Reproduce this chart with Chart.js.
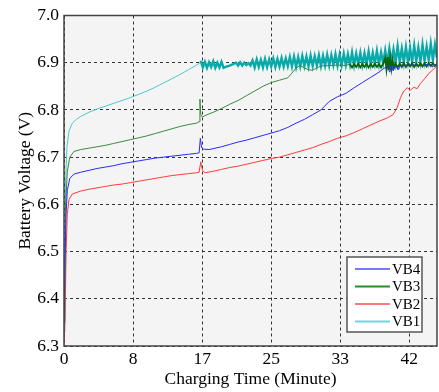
<!DOCTYPE html>
<html>
<head>
<meta charset="utf-8">
<script src="https://cdn.jsdelivr.net/npm/chart.js@4"></script>
<style>
  html, body { margin: 0; padding: 0; background: #fff; }
  #wrap { width: 439px; height: 392px; }
</style>
</head>
<body>
<div id="wrap"><canvas id="voltChart"></canvas></div>
<script>
// grid every 500 s, labelled in whole minutes
const xTickValues = [0, 25 / 3, 50 / 3, 25, 100 / 3, 125 / 3];
const xTickLabels = ['0', '8', '17', '25', '33', '42'];
const yTickValues = [6.3, 6.4, 6.5, 6.6, 6.7, 6.8, 6.9, 7.0];
const seriesNames = ['VB4', 'VB3', 'VB2', 'VB1'];

const vb4Time = [0, 0.15, 0.25, 0.4, 0.7, 1.2, 2, 3, 4, 5, 6, 7, 8, 9, 10, 11, 12, 13, 14, 15, 16, 16.3, 16.45, 16.6, 16.8, 17.5,
  18, 19, 20, 21, 22, 23, 24, 25, 26, 27, 28, 29, 30, 31, 32, 33, 34, 35, 36, 37, 38, 38.5, 39, 39.3, 39.5, 39.7, 40, 40.3,
  40.6, 41, 42, 43, 44, 44.5, 45];
const vb4Volt = [6.35, 6.5, 6.58, 6.63, 6.655, 6.664, 6.668, 6.672, 6.676, 6.679, 6.682, 6.686, 6.689, 6.692, 6.695, 6.698,
  6.700, 6.702, 6.704, 6.706, 6.708, 6.709, 6.74, 6.72, 6.717, 6.716, 6.718, 6.722, 6.727, 6.732, 6.736, 6.741, 6.746, 6.751,
  6.756, 6.763, 6.772, 6.780, 6.790, 6.800, 6.818, 6.828, 6.835, 6.847, 6.858, 6.869, 6.880, 6.887, 6.892, 6.880, 6.895,
  6.883, 6.894, 6.885, 6.895, 6.894, 6.895, 6.894, 6.896, 6.892, 6.898];

const vb3Time = [0, 0.1, 0.2, 0.4, 0.7, 1.2, 2, 3, 4, 5, 6, 7, 8, 9, 10, 11, 12, 13, 14, 15, 16, 16.3, 16.4, 16.5, 16.7, 17,
  18, 19, 20, 21, 22, 23, 24, 25, 26, 27, 27.5, 28, 28.5, 29, 29.5, 30, 30.5, 31, 32, 33, 34,
  34.5, 34.75, 35, 35.25, 35.5, 35.75, 36, 36.25, 36.5, 36.75, 37, 37.25, 37.5, 37.75, 38, 38.25, 38.5, 38.75, 38.9,
  39.05, 39.2, 39.35, 39.5, 39.65, 39.8, 40, 40.25, 40.5, 40.75, 41, 41.25, 41.5, 41.75, 42, 42.25, 42.5, 42.75, 43,
  43.25, 43.5, 43.75, 44, 44.25, 44.5, 44.75, 45];
const vb3Volt = [6.35, 6.45, 6.6, 6.67, 6.70, 6.712, 6.716, 6.719, 6.722, 6.725, 6.729, 6.733, 6.737, 6.741, 6.745, 6.75,
  6.755, 6.76, 6.765, 6.769, 6.772, 6.775, 6.823, 6.79, 6.785, 6.788, 6.795, 6.803, 6.812, 6.82, 6.83, 6.84, 6.85, 6.858,
  6.863, 6.868, 6.878, 6.889, 6.894, 6.889, 6.885, 6.884, 6.889, 6.893, 6.894, 6.895, 6.894,
  6.897, 6.890, 6.897, 6.891, 6.898, 6.890, 6.897, 6.891, 6.898, 6.890, 6.897, 6.891, 6.898, 6.891, 6.897, 6.890, 6.898,
  6.910, 6.886, 6.912, 6.885, 6.911, 6.887, 6.905, 6.889, 6.898, 6.890, 6.898, 6.891, 6.899, 6.891, 6.898, 6.892, 6.899,
  6.891, 6.898, 6.892, 6.899, 6.892, 6.899, 6.892, 6.899, 6.893, 6.899, 6.893, 6.897];

const vb2Time = [0, 0.15, 0.25, 0.4, 0.6, 1.0, 2, 3, 4, 5, 6, 7, 8, 9, 10, 11, 12, 13, 14, 15, 16, 16.3, 16.5, 16.7, 17,
  18, 19, 20, 21, 22, 23, 24, 25, 26, 27, 28, 29, 30, 31, 32, 33, 34, 35, 36, 37, 38, 39, 39.7, 40.2, 40.6, 41, 41.4,
  41.8, 42.2, 42.6, 43, 43.5, 44, 44.5, 45];
const vb2Volt = [6.30, 6.38, 6.50, 6.58, 6.61, 6.622, 6.628, 6.632, 6.635, 6.638, 6.641, 6.643, 6.646, 6.649, 6.652, 6.655,
  6.658, 6.661, 6.663, 6.665, 6.667, 6.668, 6.69, 6.672, 6.667, 6.670, 6.674, 6.678, 6.681, 6.685, 6.689, 6.693, 6.697,
  6.700, 6.705, 6.710, 6.715, 6.720, 6.727, 6.733, 6.740, 6.745, 6.752, 6.760, 6.768, 6.776, 6.783, 6.790, 6.805, 6.826,
  6.840, 6.847, 6.842, 6.848, 6.845, 6.856, 6.866, 6.877, 6.885, 6.893];

const vb1Time = [0, 0.1, 0.2, 0.35, 0.6, 1.0, 1.5, 2, 3, 4, 5, 6, 7, 8, 9, 10, 11, 12, 13, 14, 15, 16, 16.4,
  16.5, 16.75, 17, 17.25, 17.5, 17.75, 18, 18.25, 18.5, 18.75, 19, 19.25, 19.5, 20, 20.4, 20.75, 21, 21.25, 21.5, 21.75,
  22, 22.25, 22.5, 22.75, 23, 23.25, 23.5, 23.75, 24, 24.25, 24.5, 24.75, 25, 25.25, 25.5, 25.75, 26, 26.25, 26.5, 26.75,
  27, 27.25, 27.5, 27.75, 28, 28.25, 28.5, 28.75, 29, 29.25, 29.5, 29.75, 30, 30.25, 30.5, 30.75, 31, 31.25, 31.5, 31.75,
  32, 32.25, 32.5, 32.75, 33, 33.25, 33.5, 33.75, 34, 34.25, 34.5, 34.75, 35, 35.25, 35.5, 35.75, 36, 36.25, 36.5, 36.75,
  37, 37.25, 37.5, 37.75, 38, 38.25, 38.5, 38.75, 39, 39.25, 39.5, 39.75, 40, 40.25, 40.5, 40.75, 41, 41.25, 41.5, 41.75,
  42, 42.25, 42.5, 42.75, 43, 43.25, 43.5, 43.75, 44, 44.25, 44.5, 44.75, 45];
const vb1Volt = [6.33, 6.5, 6.65, 6.72, 6.755, 6.772, 6.78, 6.786, 6.795, 6.802, 6.808, 6.814, 6.82, 6.826, 6.833, 6.84,
  6.848, 6.857, 6.866, 6.875, 6.885, 6.895, 6.9,
  6.904, 6.890, 6.902, 6.889, 6.901, 6.891, 6.903, 6.889, 6.900, 6.890, 6.902, 6.889, 6.891, 6.894, 6.897, 6.900, 6.894,
  6.901, 6.894, 6.900, 6.895, 6.899, 6.894, 6.905, 6.890, 6.907, 6.891, 6.906, 6.890, 6.908, 6.891, 6.907, 6.892, 6.909,
  6.891, 6.908, 6.892, 6.910, 6.892, 6.909, 6.893, 6.912, 6.892, 6.913, 6.891, 6.912, 6.892, 6.914, 6.893, 6.913, 6.892,
  6.915, 6.893, 6.914, 6.894, 6.916, 6.893, 6.915, 6.894, 6.917, 6.894, 6.916, 6.895, 6.918, 6.894, 6.917, 6.895, 6.919,
  6.895, 6.918, 6.896, 6.922, 6.895, 6.919, 6.897, 6.921, 6.896, 6.920, 6.897, 6.924, 6.897, 6.921, 6.898, 6.925, 6.897,
  6.922, 6.899, 6.926, 6.899, 6.930, 6.901, 6.928, 6.900, 6.935, 6.902, 6.930, 6.901, 6.933, 6.902, 6.931, 6.902, 6.936,
  6.903, 6.932, 6.903, 6.938, 6.904, 6.934, 6.905, 6.940, 6.906, 6.938, 6.91];

const lineColors = ['#2a2aff', '#3a8a3a', '#ff3b3b', '#4cc8c8'];
const bandColors = ['#1a1aff', '#0a640a', '#ff3b3b', '#08aaaa'];
const bandWidths = [1, 1.8, 1, 2.4];
const bandStart = [45, 34.25, 45, 16.45];
const legendColors = ['#7878ff', '#2f8a2f', '#ff7878', '#70d8d8'];

function toPoints(times, volts) {
  return times.map((t, i) => ({ x: t, y: volts[i] }));
}

// noisy stretches look like a thick dark band
function bandSegment(i) {
  return {
    borderColor: c => c.p0.parsed.x >= bandStart[i] ? bandColors[i] : lineColors[i],
    borderWidth: c => c.p0.parsed.x >= bandStart[i] ? bandWidths[i] : 1
  };
}

const serif = "'Liberation Serif', 'DejaVu Serif', serif";

// grey plot background + dark frame
const frame = {
  id: 'frame',
  beforeDraw(chart) {
    const { ctx, chartArea: a } = chart;
    ctx.save();
    ctx.fillStyle = '#f4f4f4';
    ctx.fillRect(a.left, a.top, a.right - a.left, a.bottom - a.top);
    ctx.restore();
  },
  afterDatasetsDraw(chart) {
    const { ctx, chartArea: a } = chart;
    ctx.save();
    ctx.strokeStyle = '#444';
    ctx.lineWidth = 1.5;
    ctx.strokeRect(a.left, a.top, a.right - a.left, a.bottom - a.top);
    ctx.restore();
  }
};

// legend box in the lower right corner
const boxLegend = {
  id: 'boxLegend',
  afterDraw(chart) {
    const { ctx, chartArea: a } = chart;
    const w = 75, h = 75;
    const x = a.right - 15 - w;
    const y = a.bottom - 14 - h;
    ctx.save();
    ctx.fillStyle = '#fff';
    ctx.fillRect(x, y, w, h);
    ctx.strokeStyle = '#555';
    ctx.lineWidth = 1.5;
    ctx.strokeRect(x, y, w, h);
    ctx.font = '15px ' + serif;
    ctx.textBaseline = 'middle';
    ctx.fillStyle = '#000';
    seriesNames.forEach((name, i) => {
      const ry = y + 12 + i * 17.5;
      ctx.strokeStyle = legendColors[i];
      ctx.lineWidth = 2;
      ctx.beginPath();
      ctx.moveTo(x + 8, ry);
      ctx.lineTo(x + 43, ry);
      ctx.stroke();
      ctx.fillText(name, x + 45, ry + 1);
    });
    ctx.restore();
  }
};

const chart = new Chart(document.getElementById('voltChart').getContext('2d'), {
  type: 'line',
  data: {
    datasets: [
      { label: seriesNames[0], data: toPoints(vb4Time, vb4Volt), borderColor: lineColors[0], segment: bandSegment(0) },
      { label: seriesNames[1], data: toPoints(vb3Time, vb3Volt), borderColor: lineColors[1], segment: bandSegment(1) },
      { label: seriesNames[2], data: toPoints(vb2Time, vb2Volt), borderColor: lineColors[2], segment: bandSegment(2) },
      { label: seriesNames[3], data: toPoints(vb1Time, vb1Volt), borderColor: lineColors[3], segment: bandSegment(3) }
    ]
  },
  options: {
    animation: false,
    responsive: true,
    maintainAspectRatio: false,
    layout: { padding: { top: 15, right: 2, left: 0, bottom: 0 } },
    elements: {
      point: { radius: 0 },
      line: { borderWidth: 1, tension: 0 }
    },
    plugins: {
      legend: { display: false },
      tooltip: { enabled: false }
    },
    scales: {
      x: {
        type: 'linear',
        min: 0,
        max: 45,
        afterBuildTicks: (s) => { s.ticks = xTickValues.map(v => ({ value: v })); },
        afterFit: (s) => { s.height = 46; },
        ticks: {
          autoSkip: false,
          maxRotation: 0,
          padding: 3,
          color: '#000',
          font: { family: serif, size: 17.5 },
          callback: (v, i) => xTickLabels[i]
        },
        grid: { color: '#333', lineWidth: 1, drawTicks: false },
        border: { display: false, dash: [3, 3] },
        title: {
          display: true,
          text: 'Charging Time (Minute)',
          color: '#000',
          font: { family: serif, size: 17.5 },
          padding: { top: 0, bottom: 2 }
        }
      },
      y: {
        min: 6.3,
        max: 7.0,
        afterBuildTicks: (s) => { s.ticks = yTickValues.map(v => ({ value: v })); },
        afterFit: (s) => { s.width = 64; },
        ticks: {
          padding: 5,
          color: '#000',
          font: { family: serif, size: 17.5 },
          callback: (v) => Number(v).toFixed(1)
        },
        grid: { color: '#333', lineWidth: 1, drawTicks: false },
        border: { display: false, dash: [3, 3] },
        title: {
          display: true,
          text: 'Battery Voltage (V)',
          color: '#000',
          font: { family: serif, size: 17.5 },
          padding: { top: 15, bottom: 0 }
        }
      }
    }
  },
  plugins: [frame, boxLegend]
});
</script>
</body>
</html>
